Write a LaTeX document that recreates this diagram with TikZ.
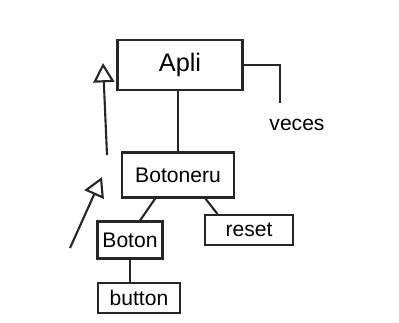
\documentclass[tikz,border=0pt]{standalone}
\usepackage{fontspec}
\setsansfont{Liberation Sans}
\usepackage{tikz}
\usetikzlibrary{arrows.meta,calc}

\begin{document}
\begin{tikzpicture}[x=0.02cm, y=-0.02cm, line width=1.2pt, black!85,
  box/.style={draw, rectangle, inner sep=0pt, text=black, font=\sffamily\large},
  gen/.style={-{Triangle[open, length=11pt, width=12pt, line width=1.2pt]}}]
  \useasboundingbox (0,0) rectangle (399,322);
  % Class boxes
  \node[box, minimum width=2.5cm, minimum height=1cm, font=\sffamily\Large] (apli) at (180,65) {Apli};
  \node[box, minimum width=2.24cm, minimum height=0.9cm] (botonera) at (178,175) {Botoneru};
  \node[box, minimum width=1.3cm, minimum height=0.74cm] (boton) at (130,240) {Boton};
  \node[box, minimum width=1.76cm, minimum height=0.6cm] (reset) at (249,230) {reset};
  \node[box, minimum width=1.64cm, minimum height=0.6cm] (button) at (139,298) {button};
  \node[font=\sffamily\large, text=black] (veces) at (297,125) {veces};
  % Links between boxes
  \draw (botonera.north) -- (botonera.north |- apli.south);
  \draw ($(botonera.south west)!0.3!(botonera.south east)$) -- ($(boton.north west)!0.65!(boton.north east)$);
  \draw ($(botonera.south west)!0.74!(botonera.south east)$) -- ($(reset.north west)!0.15!(reset.north east)$);
  \draw (boton.south) -- (boton.south |- button.north);
  \coordinate (vecesend) at (280,103);
  \draw (apli.east) -| (vecesend);
  % Inheritance arrows
  \coordinate (g1s) at (107,155);
  \coordinate (g1e) at (103,63);
  \coordinate (g2s) at (70,248);
  \coordinate (g2e) at (102,177);
  \foreach \s/\e in {g1s/g1e, g2s/g2e} {
    \draw[gen] (\s) -- (\e);
  }
\end{tikzpicture}
\end{document}
